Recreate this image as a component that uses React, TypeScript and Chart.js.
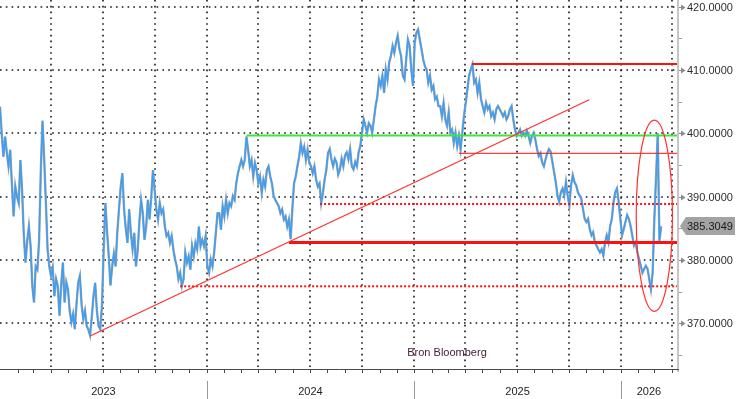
import React, { useEffect, useRef } from 'react';
import { Chart, registerables } from 'chart.js';

Chart.register(...registerables);

// ---------- data ----------
const seriesStart = '2023-01-01';
const stepDays = 3;
const prices: number[] = [
  // 2023 H1
  404.2, 400, 396.3, 399.5, 397, 394.8, 397.4, 392, 386.9, 391.6,
  390, 389, 395.8, 391, 384, 379.6, 383, 385.3, 382.2, 376,
  373.3, 379, 378.5, 383, 394, 402, 396, 389, 381.7, 379,
  377.5, 378.8, 374.3, 377, 375.9, 371.2, 376, 379.6, 373.3, 376.5,
  375.4, 372, 370.2, 371.5, 369.1, 373, 376.4, 377.5, 373, 370.7,
  372, 369.6, 369, 368.1, 371, 374.3, 376.4, 372, 369.6, 369.1,
  372.8, 381.7, 389, 384.5, 380.6,
  // 2023 H2
  376, 379, 381, 379, 384.3, 388, 391.5, 393.7, 388, 385,
  382.7, 388, 384.3, 381.7, 384.3, 379, 381.5, 386, 389.5, 387.4,
  383.2, 385.3, 389.5, 386.4, 390, 394.2, 391, 388, 386.4, 389,
  387.4, 388, 385.3, 383.8, 384.3, 382.7, 383.8, 381.7, 380.1, 379,
  377, 378, 375.9, 377, 381.2, 379.6, 380.6, 378.5, 382.2, 380.6,
  382.7, 381.7, 385.3, 382.2, 383.2, 382.2, 383.8, 379, 378, 380.1,
  379, 381.2, 384.3, 387.4,
  // 2024 H1
  387.4, 384.8, 388.5, 386.9, 389.5, 387.4, 389, 388.5, 390.1, 389.5,
  392.1, 393.7, 394.8, 395.8, 394.8, 395.8, 399.5, 397.4, 394.8, 395.8,
  393.2, 395.3, 394.2, 392.1, 393.2, 390.6, 392.7, 391.6, 394.2, 394.8,
  393.2, 392.1, 390.1, 389.5, 389, 388.5, 387.4, 388, 386.4, 386.9,
  385.3, 386.4, 383.3, 388, 392.1, 393.2, 394.8, 396.3, 398.4, 396.9,
  397.9, 395.8, 397.4, 395.3, 394.8, 393.7, 394.8, 392.7, 391.6, 392.1,
  389, 390.6, 392.7, 394.2, 396.9,
  // 2024 H2
  397.5, 395.9, 394.8, 396, 395.4, 393.5, 394.3, 396, 394.8, 396.5,
  397, 395.9, 397.5, 394.8, 394.3, 395.5, 394.8, 397, 398, 400.1,
  402.2, 401.2, 400.1, 401.6, 401.2, 400.1, 402.2, 404.3, 405.8, 408.5,
  407.5, 409.1, 406.4, 410.1, 408.5, 411.2, 412.2, 413.8, 412.7, 414.3,
  415.4, 413.3, 412.2, 409.1, 408.5, 411.7, 414.8, 413.8, 410.1, 407.5,
  414.3, 415.9, 416.4, 414.8, 413.3, 411.7, 410.6, 410.1, 408, 409.1,
  406.9, 407.5, 405.4, 405.8, 404.3,
  // 2025 H1
  404.3, 402.7, 404.8, 402.2, 401.2, 403.3, 400.1, 400.6, 398.5, 400.1,
  398, 399.6, 397.5, 400.1, 402.7, 404.8, 406.9, 409.1, 410.1, 410.9,
  408, 408.5, 406.4, 408, 405.4, 404.3, 403.3, 404.8, 403.8, 404.3,
  402.7, 403.3, 402.2, 403.8, 404.3, 403.8, 403.3, 402.7, 403.3, 402.2,
  402.7, 403.8, 404.3, 402.2, 400.6, 399.6, 400.1, 400.6, 399.6, 400.1,
  399.6, 400.4, 399.6, 398.5, 399.6, 400.1, 399, 397.5, 396.4, 396.9,
  395.4, 394.8, 395.9, 396.9, 397.5,
  // 2025 H2 - 2026
  397.1, 395.5, 393.9, 392.3, 390.2, 389.2, 390.7, 391.3, 390.2, 392.3,
  390.2, 388.6, 391.8, 393.4, 392.3, 391.8, 390.7, 390.2, 389.7, 388.1,
  386.5, 386, 386.5, 384.9, 383.9, 384.4, 382.8, 382.3, 381.7, 381.2,
  381.7, 380.7, 382.8, 383.9, 382.8, 385.4, 386.5, 389.2, 390.7, 391.3,
  389.2, 386.5, 383.9, 384.9, 386, 387.1, 386.5, 385.4, 383.9, 382.3,
  382.8, 381.2, 380.2, 379.1, 378, 378.6, 379.1, 378.6, 377, 375.4,
  378, 386.5, 393, 400, 383, 385.3049,
];

const xAxisRange = ['2023-01-01', '2026-04-10'];
const yAxisRange = [362.8, 421.05];
const yTickValues = [370, 380, 390, 400, 410, 420];
const yMinorTickValues = [365, 375, 385, 395, 405, 415];
const yearLabels = ['2023', '2024', '2025', '2026'];
const lastPriceLabel = '385.3049';
const sourceLabel = 'Bron Bloomberg';

// horizontal support / resistance levels (value, start date; they run to the right edge)
const levelValues = [410.95, 399.65, 396.85, 388.85, 382.75, 375.85];
const levelStartDates = ['2025-04-13', '2024-03-11', '2025-03-21', '2024-07-19', '2024-05-25', '2023-11-15'];
// rising trend line
const trendDates = ['2023-06-09', '2025-11-06'];
const trendValues = [368.0, 405.3];
// ellipse highlighting the recent move
const ellipseDates = ['2026-01-28', '2026-04-02'];
const ellipseValues = [371.9, 402.1];

// ---------- styles ----------
const RED = '#ff1010';
const levelStyles = [
  { color: RED, width: 2, dash: [] as number[] },
  { color: '#3fe43f', width: 2, dash: [] as number[] },
  { color: RED, width: 1, dash: [] as number[] },
  { color: RED, width: 2, dash: [2, 2] },
  { color: RED, width: 3, dash: [] as number[] },
  { color: RED, width: 2, dash: [2, 2] },
];
const FONT = '11px "Liberation Sans", Arial, sans-serif';
const DAY = 86400000;
const toMs = (s: string) => Date.parse(s + 'T00:00:00Z');

function monthStarts(minMs: number, maxMs: number) {
  const out: { t: number; m: number; y: number }[] = [];
  for (let y = 2022; y <= 2027; y++) {
    for (let m = 0; m < 12; m++) {
      const t = Date.UTC(y, m, 1);
      if (t > minMs && t <= maxMs) out.push({ t, m, y });
    }
  }
  return out;
}

const decor = {
  id: 'decor',
  beforeDatasetsDraw(chart: any) {
    const { ctx, chartArea: a, scales } = chart;
    const x = scales.x, y = scales.y;
    ctx.save();
    ctx.strokeStyle = '#161616';
    ctx.lineWidth = 1.6;
    ctx.setLineDash([1.6, 4.2]);
    for (const v of yTickValues) {
      const py = Math.round(y.getPixelForValue(v));
      ctx.beginPath();
      ctx.moveTo(a.left, py);
      ctx.lineTo(a.right, py);
      ctx.stroke();
    }
    for (const ms of monthStarts(x.min, x.max)) {
      if (ms.m % 3 !== 0) continue;
      const px = Math.round(x.getPixelForValue(ms.t));
      ctx.beginPath();
      ctx.moveTo(px, a.top);
      ctx.lineTo(px, a.bottom);
      ctx.stroke();
    }
    ctx.restore();
  },
  afterDatasetsDraw(chart: any) {
    const { ctx, chartArea: a, scales } = chart;
    const x = scales.x, y = scales.y;
    ctx.save();
    ctx.beginPath();
    ctx.rect(a.left, a.top, a.right - a.left, a.bottom - a.top);
    ctx.clip();
    // levels
    levelValues.forEach((v, i) => {
      const st = levelStyles[i];
      const py = y.getPixelForValue(v);
      ctx.strokeStyle = st.color;
      ctx.lineWidth = st.width;
      ctx.setLineDash(st.dash);
      ctx.beginPath();
      ctx.moveTo(x.getPixelForValue(toMs(levelStartDates[i])), py);
      ctx.lineTo(a.right, py);
      ctx.stroke();
    });
    ctx.setLineDash([]);
    // trend line
    ctx.strokeStyle = '#ff3030';
    ctx.lineWidth = 1.2;
    ctx.beginPath();
    ctx.moveTo(x.getPixelForValue(toMs(trendDates[0])), y.getPixelForValue(trendValues[0]));
    ctx.lineTo(x.getPixelForValue(toMs(trendDates[1])), y.getPixelForValue(trendValues[1]));
    ctx.stroke();
    // ellipse
    const ex0 = x.getPixelForValue(toMs(ellipseDates[0]));
    const ex1 = x.getPixelForValue(toMs(ellipseDates[1]));
    const ey0 = y.getPixelForValue(ellipseValues[0]);
    const ey1 = y.getPixelForValue(ellipseValues[1]);
    ctx.strokeStyle = '#ff3030';
    ctx.lineWidth = 1.2;
    ctx.beginPath();
    ctx.ellipse((ex0 + ex1) / 2, (ey0 + ey1) / 2, Math.abs(ex1 - ex0) / 2, Math.abs(ey1 - ey0) / 2, 0, 0, Math.PI * 2);
    ctx.stroke();
    ctx.restore();
  },
  afterDraw(chart: any) {
    const { ctx, chartArea: a, scales, width, height } = chart;
    const x = scales.x, y = scales.y;
    ctx.save();
    // right axis line
    ctx.strokeStyle = '#c6c6c6';
    ctx.lineWidth = 2;
    ctx.beginPath();
    ctx.moveTo(a.right + 1, 0);
    ctx.lineTo(a.right + 1, a.bottom + 3);
    ctx.stroke();
    // bottom axis line
    ctx.strokeStyle = '#4a4a4a';
    ctx.lineWidth = 1;
    ctx.beginPath();
    ctx.moveTo(a.left, a.bottom + 0.5);
    ctx.lineTo(a.right + 2, a.bottom + 0.5);
    ctx.stroke();
    // monthly ticks
    for (const ms of monthStarts(x.min, x.max)) {
      const px = Math.round(x.getPixelForValue(ms.t)) + 0.5;
      ctx.beginPath();
      ctx.moveTo(px, a.bottom);
      ctx.lineTo(px, a.bottom + 4);
      ctx.stroke();
    }
    // year separators and labels
    ctx.font = FONT;
    ctx.fillStyle = '#1e1e1e';
    ctx.textAlign = 'center';
    ctx.textBaseline = 'middle';
    yearLabels.forEach((lbl) => {
      const yr = Number(lbl);
      const s = Math.max(Date.UTC(yr, 0, 1), x.min);
      const e = Math.min(Date.UTC(yr + 1, 0, 1), x.max);
      const cx = (x.getPixelForValue(s) + x.getPixelForValue(e)) / 2;
      ctx.fillText(lbl, cx, a.bottom + 23);
      if (Date.UTC(yr, 0, 1) > x.min) {
        const px = Math.round(x.getPixelForValue(Date.UTC(yr, 0, 1))) + 0.5;
        ctx.strokeStyle = '#9a9a9a';
        ctx.beginPath();
        ctx.moveTo(px, a.bottom + 12);
        ctx.lineTo(px, height);
        ctx.stroke();
      }
    });
    // y minor ticks
    ctx.strokeStyle = '#9a9a9a';
    ctx.lineWidth = 1;
    for (const v of yMinorTickValues) {
      const py = Math.round(y.getPixelForValue(v)) + 0.5;
      ctx.beginPath();
      ctx.moveTo(a.right + 2, py);
      ctx.lineTo(a.right + 5, py);
      ctx.stroke();
    }
    // y labels with arrow markers
    ctx.textAlign = 'left';
    for (const v of yTickValues) {
      const py = Math.round(y.getPixelForValue(v));
      ctx.strokeStyle = '#8a8a8a';
      ctx.beginPath();
      ctx.moveTo(a.right + 2, py + 0.5);
      ctx.lineTo(a.right + 5, py + 0.5);
      ctx.stroke();
      ctx.fillStyle = '#8a8a8a';
      ctx.beginPath();
      ctx.moveTo(a.right + 4, py - 2.5);
      ctx.lineTo(a.right + 8.5, py + 0.5);
      ctx.lineTo(a.right + 4, py + 3.5);
      ctx.closePath();
      ctx.fill();
      ctx.fillStyle = '#2e2e2e';
      ctx.fillText(v.toFixed(4), a.right + 10, py + 1);
    }
    // last price box
    const last = prices[prices.length - 1];
    const yc = Math.round(y.getPixelForValue(last));
    ctx.fillStyle = '#a3a3a3';
    ctx.beginPath();
    ctx.moveTo(a.right + 3, yc);
    ctx.lineTo(a.right + 9, yc - 9);
    ctx.lineTo(width - 1, yc - 9);
    ctx.lineTo(width - 1, yc + 9);
    ctx.lineTo(a.right + 9, yc + 9);
    ctx.closePath();
    ctx.fill();
    ctx.fillStyle = '#1a1a1a';
    ctx.fillText(lastPriceLabel, a.right + 10, yc + 1);
    // source text
    ctx.fillStyle = '#47203f';
    ctx.textAlign = 'center';
    ctx.fillText(sourceLabel, a.left + 447, a.bottom - 16);
    ctx.restore();
  },
};

export default function App() {
  const ref = useRef<HTMLCanvasElement>(null);
  useEffect(() => {
    document.body.style.margin = '0';
    const canvas = ref.current;
    if (!canvas) return;
    const t0 = toMs(seriesStart);
    const mk = () => prices.map((v, i) => ({ x: t0 + i * stepDays * DAY, y: v }));
    const chart = new Chart(canvas, {
      type: 'line',
      data: {
        datasets: [
          // close line (drawn on top)
          { data: mk(), borderColor: '#3d9ef2', borderWidth: 1.5, pointRadius: 0, tension: 0, order: 1 },
          // grey range shading underneath
          { data: mk(), borderColor: '#a9a9a9', borderWidth: 2.4, pointRadius: 0, tension: 0, order: 2 },
        ],
      },
      options: {
        animation: false,
        responsive: false,
        maintainAspectRatio: false,
        events: [],
        layout: { padding: 0 },
        plugins: { legend: { display: false }, tooltip: { enabled: false } },
        scales: {
          x: {
            type: 'linear',
            min: toMs(xAxisRange[0]),
            max: toMs(xAxisRange[1]),
            grid: { display: false },
            border: { display: false },
            ticks: { display: false },
            afterFit: (s: any) => { s.height = 30; },
          },
          y: {
            position: 'right',
            min: yAxisRange[0],
            max: yAxisRange[1],
            grid: { display: false },
            border: { display: false },
            ticks: { display: false },
            afterFit: (s: any) => { s.width = 59; },
          },
        },
      },
      plugins: [decor],
    } as any);
    return () => chart.destroy();
  }, []);
  return (
    <div style={{ position: 'absolute', left: 0, top: 0, width: 736, height: 399, background: '#fff' }}>
      <canvas ref={ref} width={736} height={399} style={{ display: 'block' }} />
    </div>
  );
}
